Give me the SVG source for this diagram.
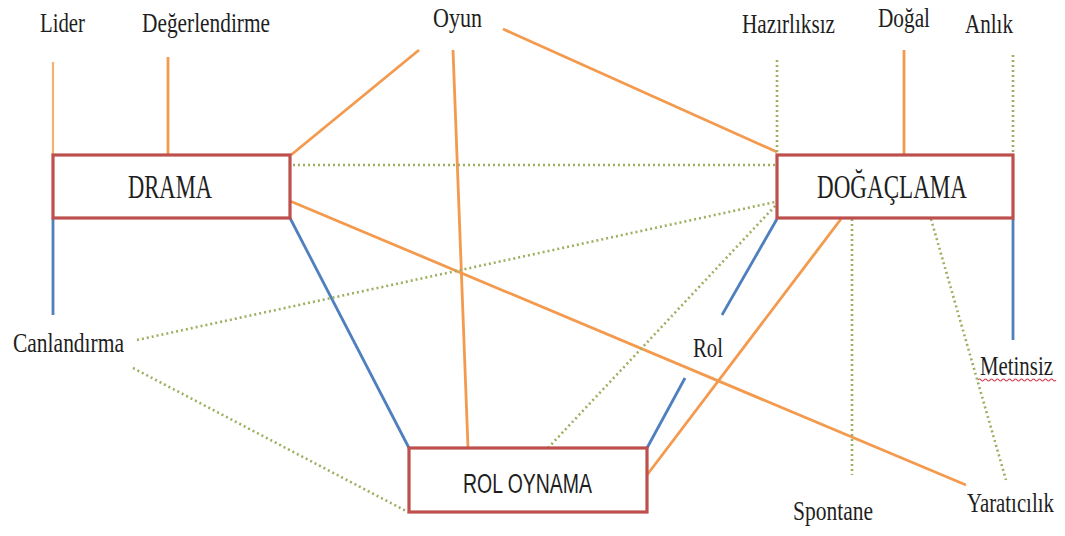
<svg xmlns="http://www.w3.org/2000/svg" width="1065" height="536" viewBox="0 0 1065 536">
<style>
.o{stroke:#f39a4e;stroke-width:2.8;fill:none}
.ol{stroke:#f2b36a;stroke-width:2.2;fill:none}
.b{stroke:#4f7fbf;stroke-width:2.8;fill:none}
.d{stroke:#9bb060;stroke-width:2.6;stroke-dasharray:2 3;fill:none}
.box{fill:#fff;stroke:#bd4f4c;stroke-width:3.2}
.t{font-family:"Liberation Serif","Times New Roman",serif;font-size:28px;fill:#1e1e1e}
.bt{font-family:"Liberation Serif","Times New Roman",serif;font-size:33px;fill:#1e1e1e}
.st{font-family:"Liberation Sans",Arial,sans-serif;font-size:27px;fill:#1e1e1e}
</style>
<rect width="1065" height="536" fill="#fff"/>
<g id="connectors">
<line class="ol" x1="53" y1="62" x2="53" y2="155"/>
<line class="o" x1="168" y1="57" x2="168" y2="155"/>
<line class="o" x1="419" y1="50" x2="291" y2="155"/>
<line class="o" x1="453" y1="50" x2="468" y2="448"/>
<line class="o" x1="503" y1="29" x2="777" y2="152"/>
<line class="o" x1="290" y1="201" x2="966" y2="485"/>
<line class="b" x1="290" y1="218" x2="409" y2="448"/>
<line class="b" x1="53" y1="218" x2="53" y2="315"/>
<line class="d" x1="293" y1="165" x2="777" y2="165"/>
<line class="d" x1="137" y1="340" x2="775" y2="202"/>
<line class="d" x1="133" y1="368" x2="408" y2="512"/>
<line class="d" x1="548" y1="448" x2="776" y2="205"/>
<line class="b" x1="647" y1="448" x2="685" y2="378"/>
<line class="b" x1="722" y1="315" x2="777" y2="219"/>
<line class="o" x1="647" y1="475" x2="841" y2="219"/>
<line class="d" x1="852" y1="219" x2="852" y2="475"/>
<line class="d" x1="931" y1="219" x2="1006" y2="480"/>
<line class="b" x1="1013" y1="219" x2="1013" y2="340"/>
<line class="d" x1="777" y1="60" x2="777" y2="155"/>
<line class="o" x1="904" y1="50" x2="904" y2="155"/>
<line class="d" x1="1013" y1="55" x2="1013" y2="155"/>
<path d="M978 380 q1.5 -2 3 0 t3 0 t3 0 t3 0 t3 0 t3 0 t3 0 t3 0 t3 0 t3 0 t3 0 t3 0 t3 0 t3 0 t3 0 t3 0 t3 0 t3 0 t3 0 t3 0 t3 0 t3 0 t3 0 t3 0 t3 0 t3 0" fill="none" stroke="#d04050" stroke-width="1.2"/>
</g>
<g id="drama">
<rect class="box" x="53" y="155" width="237" height="63"/>
<text class="bt" x="128" y="198" textLength="84" lengthAdjust="spacingAndGlyphs">DRAMA</text>
</g>
<g id="dogaclama">
<rect class="box" x="777" y="155" width="236" height="63"/>
<text class="bt" x="817" y="198" textLength="150" lengthAdjust="spacingAndGlyphs">DOĞAÇLAMA</text>
</g>
<g id="rol-oynama">
<rect class="box" x="409" y="448" width="238" height="64"/>
<text class="st" x="463" y="493" textLength="129" lengthAdjust="spacingAndGlyphs">ROL OYNAMA</text>
</g>
<g id="lider"><text class="t" x="40" y="32" textLength="45" lengthAdjust="spacingAndGlyphs">Lider</text></g>
<g id="degerlendirme"><text class="t" x="142" y="32" textLength="128" lengthAdjust="spacingAndGlyphs">Değerlendirme</text></g>
<g id="oyun"><text class="t" x="433" y="27" textLength="49" lengthAdjust="spacingAndGlyphs">Oyun</text></g>
<g id="hazirliksiz"><text class="t" x="742" y="33" textLength="93" lengthAdjust="spacingAndGlyphs">Hazırlıksız</text></g>
<g id="dogal"><text class="t" x="878" y="27" textLength="52" lengthAdjust="spacingAndGlyphs">Doğal</text></g>
<g id="anlik"><text class="t" x="965" y="33" textLength="48" lengthAdjust="spacingAndGlyphs">Anlık</text></g>
<g id="canlandirma"><text class="t" x="13" y="352" textLength="111" lengthAdjust="spacingAndGlyphs">Canlandırma</text></g>
<g id="rol"><text class="t" x="693" y="357" textLength="30" lengthAdjust="spacingAndGlyphs">Rol</text></g>
<g id="metinsiz"><text class="t" transform="translate(980 375) scale(0.745 1)" x="0" y="0">Metinsiz</text></g>
<g id="spontane"><text class="t" x="793" y="520" textLength="80" lengthAdjust="spacingAndGlyphs">Spontane</text></g>
<g id="yaraticilik"><text class="t" transform="translate(967 512) scale(0.743 1)" x="0" y="0">Yaratıcılık</text></g>
</svg>
